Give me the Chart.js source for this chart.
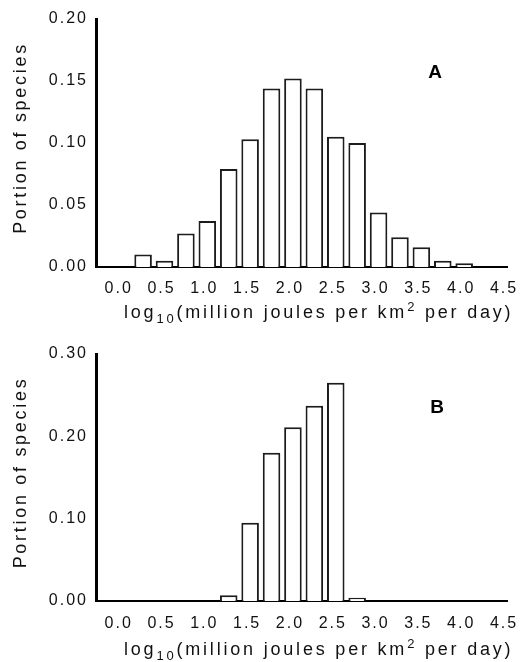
<!DOCTYPE html>
<html>
<head>
<meta charset="utf-8">
<script src="https://cdn.jsdelivr.net/npm/chart.js@4.4.1/dist/chart.umd.min.js"></script>
<style>
  html, body { margin: 0; padding: 0; background: #fff; }
  #wrap { position: relative; width: 520px; height: 662px; overflow: hidden; }
  .panel { position: absolute; left: 0; width: 520px; }
  #panelA { top: 0; height: 330px; }
  #panelB { top: 330px; height: 332px; }
</style>
</head>
<body>
<div id="wrap">
  <div class="panel" id="panelA"><canvas id="chartA"></canvas></div>
  <div class="panel" id="panelB"><canvas id="chartB"></canvas></div>
</div>
<script>
// bin centres, log10(million joules per km2 per day)
const binCentres = [0.25, 0.5, 0.75, 1.0, 1.25, 1.5, 1.75, 2.0, 2.25, 2.5, 2.75, 3.0, 3.25, 3.5, 3.75, 4.0];
// panel A
const portionA = [0.010, 0.005, 0.027, 0.037, 0.079, 0.103, 0.144, 0.152, 0.144, 0.105, 0.100, 0.044, 0.024, 0.016, 0.005, 0.003];
// panel B (null = no bar)
const portionB = [null, null, null, null, 0.007, 0.095, 0.180, 0.211, 0.237, 0.265, 0.004, null, null, null, null, null];

const xTickValues = [0, 0.5, 1.0, 1.5, 2.0, 2.5, 3.0, 3.5, 4.0, 4.5];
const yTicksA = [0, 0.05, 0.10, 0.15, 0.20];
const yTicksB = [0, 0.10, 0.20, 0.30];
const yTitle = 'Portion of species';
const xTitleParts = ['log', '10', '(million joules per km', '2', ' per day)'];

const FONT = '"Liberation Sans", Arial, sans-serif';

// wider letter spacing like the original bitmap font
const spacingPlugin = {
  id: 'spacing',
  beforeUpdate(chart) { chart.ctx.letterSpacing = '2px'; },
  beforeDraw(chart) { chart.ctx.letterSpacing = '2px'; }
};

const titlesPlugin = {
  id: 'titles',
  afterDraw(chart, args, opts) {
    const ctx = chart.ctx;
    const area = chart.chartArea;
    ctx.save();
    ctx.fillStyle = '#111';
    ctx.letterSpacing = '2.7px';

    // y title, rotated
    ctx.font = '18px ' + FONT;
    ctx.save();
    ctx.translate(21, (area.top + area.bottom) / 2 - 5);
    ctx.rotate(-Math.PI / 2);
    ctx.textAlign = 'center';
    ctx.textBaseline = 'middle';
    ctx.fillText(yTitle, 0, 0);
    ctx.restore();

    // x title with subscript and superscript
    ctx.letterSpacing = '2.8px';
    ctx.textAlign = 'left';
    ctx.textBaseline = 'alphabetic';
    let x = 124;
    const base = area.bottom + opts.titleDrop;
    xTitleParts.forEach((part, i) => {
      let dy = 0;
      if (i === 1) { ctx.font = '13px ' + FONT; dy = 5; }
      else if (i === 3) { ctx.font = '13px ' + FONT; dy = -7; }
      else { ctx.font = '18px ' + FONT; }
      ctx.fillText(part, x, base + dy);
      x += ctx.measureText(part).width;
    });

    // panel letter
    ctx.letterSpacing = '0px';
    ctx.font = 'bold 19px ' + FONT;
    ctx.textAlign = 'center';
    ctx.textBaseline = 'middle';
    ctx.fillStyle = '#000';
    ctx.fillText(opts.letter, opts.letterX, opts.letterY);
    ctx.restore();
  }
};

function makePanel(id, values, yTicks, yMax, cfg) {
  new Chart(document.getElementById(id), {
    type: 'bar',
    data: {
      datasets: [{
        data: binCentres.map((c, i) => ({ x: c, y: values[i] })),
        backgroundColor: '#fff',
        borderColor: '#1c1c1c',
        borderWidth: 2,
        borderSkipped: 'start',
        barPercentage: 0.82,
        categoryPercentage: 1.0
      }]
    },
    options: {
      responsive: true,
      maintainAspectRatio: false,
      animation: false,
      layout: { padding: { top: cfg.padTop, right: 13, left: 0, bottom: 0 } },
      plugins: {
        legend: { display: false },
        tooltip: { enabled: false },
        titles: { letter: cfg.letter, letterX: cfg.letterX, letterY: cfg.letterY, titleDrop: cfg.titleDrop }
      },
      scales: {
        x: {
          type: 'linear',
          min: -0.3,
          max: 4.5,
          offset: false,
          afterBuildTicks: s => { s.ticks = xTickValues.map(v => ({ value: v })); },
          afterFit: s => {
            s.height = cfg.xHeight;
            s.paddingLeft = 0;
            s.paddingRight = 0;
          },
          grid: { display: false, drawTicks: false },
          border: { display: true, color: '#000', width: 2 },
          ticks: {
            color: '#111',
            font: { family: FONT, size: 16 },
            padding: cfg.tickPad,
            labelOffset: -3,
            maxRotation: 0,
            autoSkip: false,
            callback: v => v.toFixed(1)
          }
        },
        y: {
          min: 0,
          max: yMax,
          afterBuildTicks: s => { s.ticks = yTicks.map(v => ({ value: v })); },
          afterFit: s => { s.width = 96; },
          grid: { display: false, drawTicks: false },
          border: { display: true, color: '#000', width: 3 },
          ticks: {
            color: '#111',
            font: { family: FONT, size: 16 },
            padding: 8,
            callback: v => v.toFixed(2)
          }
        }
      }
    },
    plugins: [spacingPlugin, titlesPlugin]
  });
}

makePanel('chartA', portionA, yTicksA, 0.20, {
  padTop: 19, xHeight: 63, tickPad: 12, titleDrop: 51,
  letter: 'A', letterX: 435, letterY: 73
});
makePanel('chartB', portionB, yTicksB, 0.30, {
  padTop: 24, xHeight: 61, tickPad: 13, titleDrop: 54,
  letter: 'B', letterX: 437, letterY: 78
});
</script>
</body>
</html>
